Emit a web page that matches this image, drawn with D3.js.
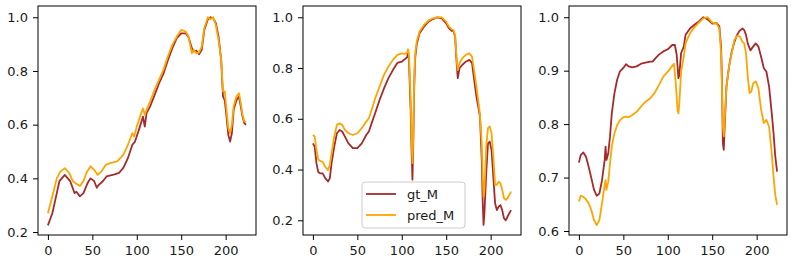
<!DOCTYPE html>
<html>
<head>
<meta charset="utf-8">
<script src="https://cdn.jsdelivr.net/npm/d3@7"></script>
<style>
  body { margin: 0; background: #fff; }
  text { font-family: "DejaVu Sans", sans-serif; }
</style>
</head>
<body>
<div id="chart"></div>
<script>
//////////////////////////////  data  /////////////////////////////////
var xTicks = [0, 50, 100, 150, 200];
var seriesNames = ["gt_M", "pred_M"];

// panel 1
var p1GtX = [0,5,10,13,19,25,30,32,36,40,45,48,52,55,57,62,66,75,80,85,90,95,98,103,107,109,111,115,120,125,130,135,140,145,150,155,158,162,164,167,170,173,176,180,183,186,189,192,195,197,199,201,203,205,207,209,212,215,217,219,221,223];
var p1Gt  = [0.225,0.27,0.345,0.39,0.413,0.39,0.345,0.35,0.333,0.345,0.385,0.40,0.39,0.365,0.375,0.39,0.407,0.415,0.42,0.44,0.475,0.525,0.537,0.587,0.63,0.593,0.643,0.668,0.71,0.754,0.79,0.84,0.885,0.922,0.94,0.94,0.928,0.885,0.873,0.876,0.862,0.878,0.953,0.993,1.0,0.996,0.978,0.928,0.84,0.705,0.69,0.63,0.562,0.537,0.568,0.655,0.69,0.705,0.668,0.63,0.605,0.60];
var p1PredX = [0,5,10,14,19,24,28,31,36,40,44,48,52,56,60,65,70,78,85,90,95,97,100,105,107,109,111,115,120,125,130,135,140,145,150,155,158,162,164,167,170,173,176,180,183,186,189,192,195,197,199,201,203,205,207,209,212,215,217,219,221,223];
var p1Pred  = [0.27,0.333,0.40,0.425,0.438,0.42,0.39,0.382,0.372,0.39,0.425,0.445,0.432,0.413,0.425,0.45,0.457,0.463,0.488,0.525,0.568,0.556,0.593,0.643,0.66,0.637,0.655,0.686,0.73,0.767,0.804,0.854,0.897,0.928,0.953,0.947,0.93,0.866,0.88,0.866,0.868,0.89,0.96,1.0,0.993,1.0,0.97,0.915,0.84,0.724,0.724,0.655,0.587,0.568,0.60,0.668,0.705,0.717,0.68,0.637,0.612,0.61];

// panel 2
var p2GtX = [0,2,4,6,8,11,14,17,19,21,24,27,30,33,36,40,45,50,55,60,63,66,70,75,80,85,90,95,100,103,106,107,108,110,111,112,113,114,115,117,120,125,130,135,140,145,150,153,156,158,160,162,163,165,168,172,176,179,181,184,186,188,190,191,192,193,195,197,199,201,203,205,207,209,211,213,215,217,219,221,223];
var p2Gt  = [0.503,0.49,0.425,0.39,0.385,0.385,0.365,0.353,0.365,0.425,0.49,0.543,0.556,0.55,0.53,0.503,0.484,0.484,0.503,0.536,0.55,0.582,0.622,0.674,0.72,0.76,0.792,0.82,0.825,0.834,0.842,0.86,0.838,0.635,0.477,0.36,0.517,0.727,0.838,0.897,0.937,0.963,0.983,0.993,1.0,0.996,0.976,0.957,0.947,0.947,0.924,0.806,0.76,0.80,0.812,0.825,0.832,0.82,0.766,0.687,0.648,0.609,0.438,0.28,0.182,0.228,0.385,0.503,0.51,0.477,0.372,0.267,0.24,0.254,0.26,0.24,0.208,0.20,0.214,0.228,0.24];
var p2PredX = p2GtX;
var p2Pred  = [0.536,0.53,0.477,0.44,0.434,0.43,0.41,0.398,0.418,0.464,0.53,0.576,0.582,0.576,0.556,0.543,0.536,0.543,0.563,0.589,0.602,0.635,0.68,0.727,0.773,0.806,0.832,0.852,0.858,0.856,0.86,0.874,0.858,0.674,0.517,0.425,0.543,0.753,0.852,0.908,0.944,0.97,0.987,0.996,1.0,1.0,0.983,0.963,0.953,0.95,0.93,0.82,0.792,0.82,0.838,0.852,0.858,0.845,0.80,0.727,0.674,0.615,0.503,0.385,0.293,0.32,0.49,0.563,0.57,0.543,0.451,0.34,0.34,0.352,0.346,0.32,0.287,0.28,0.287,0.30,0.313];

// panel 3
var p3GtX = [0,2,5,8,11,14,17,20,23,26,29,30,31,33,35,37,40,43,46,50,53,56,60,65,70,75,80,83,86,90,95,100,105,108,110,112,113,115,118,120,125,130,135,140,145,150,155,158,160,161,162,163,164,166,169,172,175,178,181,184,186,188,190,193,196,199,202,205,208,211,214,217,219,221,223];
var p3Gt  = [0.728,0.742,0.747,0.739,0.72,0.699,0.677,0.666,0.67,0.695,0.733,0.758,0.733,0.745,0.777,0.82,0.858,0.883,0.898,0.905,0.912,0.908,0.906,0.908,0.913,0.915,0.917,0.917,0.923,0.93,0.936,0.94,0.948,0.948,0.93,0.886,0.892,0.933,0.945,0.967,0.979,0.986,0.992,1.0,0.996,0.988,0.989,0.983,0.945,0.876,0.764,0.752,0.795,0.87,0.908,0.936,0.954,0.967,0.975,0.979,0.976,0.967,0.951,0.938,0.945,0.951,0.945,0.926,0.905,0.898,0.87,0.82,0.783,0.739,0.711];
var p3PredX = [0,2,5,8,11,14,17,20,23,26,29,30,31,33,35,37,40,43,46,50,53,56,60,65,70,75,80,85,90,95,100,105,107,109,111,112,113,115,118,120,125,130,135,140,145,150,155,158,160,161,162,163,164,166,169,172,175,178,181,184,186,188,190,192,194,196,199,202,205,208,211,214,217,219,221,223];
var p3Pred  = [0.655,0.666,0.664,0.659,0.652,0.639,0.62,0.611,0.62,0.652,0.686,0.695,0.677,0.692,0.727,0.758,0.783,0.798,0.807,0.813,0.814,0.813,0.817,0.823,0.833,0.842,0.848,0.858,0.873,0.889,0.898,0.909,0.913,0.876,0.827,0.82,0.839,0.898,0.926,0.951,0.97,0.981,0.99,0.998,1.0,0.99,0.988,0.979,0.933,0.864,0.795,0.777,0.808,0.87,0.908,0.933,0.958,0.965,0.964,0.954,0.951,0.933,0.889,0.858,0.861,0.876,0.88,0.867,0.827,0.802,0.808,0.795,0.745,0.702,0.667,0.649];

var p1YTicks = [0.2, 0.4, 0.6, 0.8, 1.0];
var p2YTicks = [0.2, 0.4, 0.6, 0.8, 1.0];
var p3YTicks = [0.6, 0.7, 0.8, 0.9, 1.0];

var panels = [
  {gtX: p1GtX, gt: p1Gt, predX: p1PredX, pred: p1Pred, yTicks: p1YTicks, yDomain: [0.189, 1.042], legend: false},
  {gtX: p2GtX, gt: p2Gt, predX: p2PredX, pred: p2Pred, yTicks: p2YTicks, yDomain: [0.142, 1.0445], legend: true},
  {gtX: p3GtX, gt: p3Gt, predX: p3PredX, pred: p3Pred, yTicks: p3YTicks, yDomain: [0.5925, 1.021], legend: false}
];

//////////////////////////////  layout  /////////////////////////////////
var width = 801, height = 267;
var panelLeft = [38, 303, 569];
var panelW = 218, panelTop = 6, panelH = 229;
var colors = ["#a52a2a", "#ffa500"];
var fontSize = "13px";

var svg = d3.select("#chart").append("svg")
  .attr("width", width)
  .attr("height", height);

panels.forEach(function(p, i) {
  var g = svg.append("g")
    .attr("transform", "translate(" + panelLeft[i] + "," + panelTop + ")");

  var x = d3.scaleLinear().domain([-11.15, 234.15]).range([0, panelW]);
  var y = d3.scaleLinear().domain(p.yDomain).range([panelH, 0]);

  var line = d3.line()
    .x(function(d) { return x(d[0]); })
    .y(function(d) { return y(d[1]); });

  var gtPts = p.gtX.map(function(v, k) { return [v, p.gt[k]]; });
  var predPts = p.predX.map(function(v, k) { return [v, p.pred[k]]; });

  g.append("path").datum(gtPts)
    .attr("d", line)
    .attr("fill", "none")
    .attr("stroke", colors[0])
    .attr("stroke-width", 1.8)
    .attr("stroke-linejoin", "round");

  g.append("path").datum(predPts)
    .attr("d", line)
    .attr("fill", "none")
    .attr("stroke", colors[1])
    .attr("stroke-width", 1.8)
    .attr("stroke-linejoin", "round");

  // axes
  var xAxis = g.append("g")
    .attr("transform", "translate(0," + panelH + ")")
    .call(d3.axisBottom(x).tickValues(xTicks).tickSize(5).tickPadding(6));
  var yAxis = g.append("g")
    .call(d3.axisLeft(y).tickValues(p.yTicks).tickSize(5).tickPadding(5).tickFormat(d3.format(".1f")));

  [xAxis, yAxis].forEach(function(a) {
    a.select(".domain").remove();
    a.selectAll("line").attr("stroke", "#000").attr("stroke-width", 1);
    a.selectAll("text").attr("font-size", fontSize).attr("fill", "#1a1a1a")
      .style("font-family", "'DejaVu Sans', sans-serif");
  });

  g.append("rect")
    .attr("x", 0).attr("y", 0)
    .attr("width", panelW).attr("height", panelH)
    .attr("fill", "none")
    .attr("stroke", "#000")
    .attr("stroke-width", 1);

  if (p.legend) {
    var lg = g.append("g").attr("transform", "translate(59,176)");
    lg.append("rect")
      .attr("width", 103).attr("height", 46)
      .attr("rx", 3)
      .attr("fill", "#fff").attr("fill-opacity", 0.8)
      .attr("stroke", "#cccccc");
    seriesNames.forEach(function(name, k) {
      var yy = 12 + k * 21;
      lg.append("line")
        .attr("x1", 4).attr("x2", 34)
        .attr("y1", yy).attr("y2", yy)
        .attr("stroke", colors[k]).attr("stroke-width", 1.8);
      lg.append("text")
        .attr("x", 45).attr("y", yy + 4.5)
        .attr("font-size", fontSize).attr("fill", "#1a1a1a")
        .text(name);
    });
  }
});
</script>
</body>
</html>
